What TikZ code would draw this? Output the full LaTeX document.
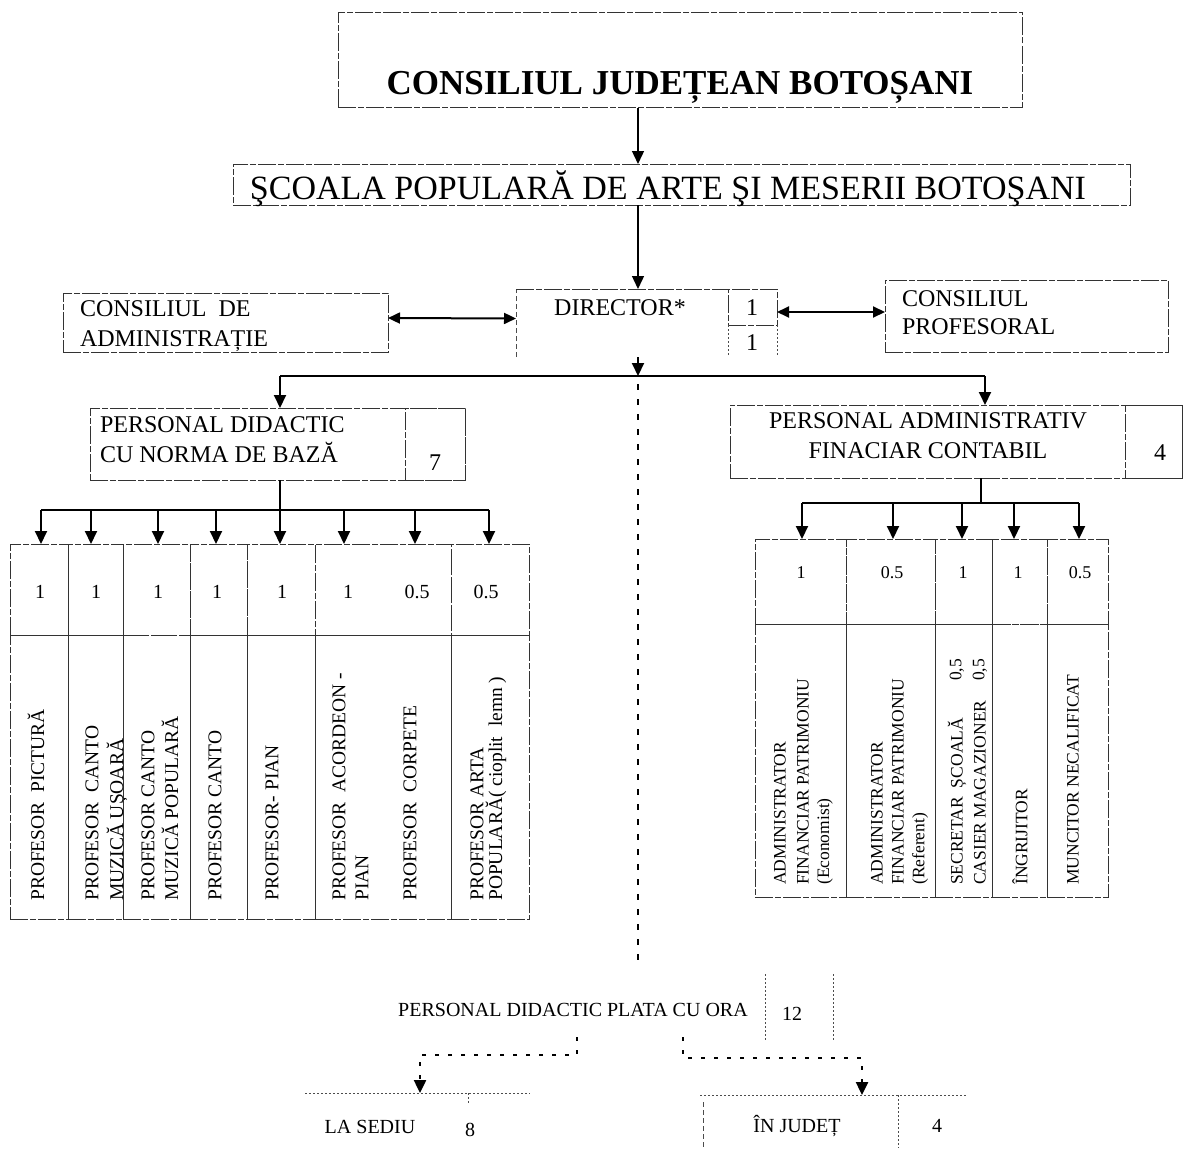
\documentclass[tikz,border=0pt]{standalone}
\usepackage{fontspec}
\setmainfont{Liberation Serif}
\usetikzlibrary{arrows.meta}
\begin{document}
\begin{tikzpicture}[x=1pt,y=-1pt,
 brd/.style={draw=black!80,line width=0.9pt,dash pattern=on 18pt off 2pt on 6pt off 2pt},
 lite/.style={draw=black!70,line width=0.8pt,dash pattern=on 5pt off 3pt},
 dotl/.style={draw=black!70,line width=0.8pt,dash pattern=on 1.5pt off 2.5pt},
 frame/.style={inner sep=0pt,outer sep=0pt},
 conn/.style={draw=black,line width=2pt},
 thinconn/.style={draw=black,line width=1.4pt},
 tip/.style={-{Triangle[length=13pt,width=12pt]}},
 dtip/.style={{Triangle[length=12pt,width=11pt]}-{Triangle[length=12pt,width=11pt]}},
 dotconn/.style={draw=black,line width=2.4pt,dash pattern=on 4pt off 9pt},
 spinedot/.style={draw=black,line width=1.8pt,dash pattern=on 6pt off 9pt},
 txt/.style={inner sep=0pt,outer sep=0pt,anchor=base},
 txtw/.style={inner sep=0pt,outer sep=0pt,anchor=base west},
 f35/.style={font=\fontsize{35}{40}\selectfont\bfseries},
 f34/.style={font=\fontsize{34}{38}\selectfont},
 f24/.style={font=\fontsize{24}{28}\selectfont},
 f20/.style={font=\fontsize{20}{24}\selectfont},
 f18/.style={font=\fontsize{18}{22}\selectfont},
 rotL/.style={rotate=90,anchor=west,inner sep=0pt,font=\fontsize{19.5}{22}\selectfont},
 rotR/.style={rotate=90,anchor=west,inner sep=0pt,font=\fontsize{17.5}{20}\selectfont},
]
\useasboundingbox (0,0) rectangle (1185,1148);
\coordinate (spine) at (638,0);

% top boxes
\node[frame,brd,minimum width=684pt,minimum height=95pt] (cjb) at (680,60) {};
\node[txt,f35] (cjbt) at (680,94) {CONSILIUL JUDEȚEAN BOTOȘANI};
\node[frame,brd,minimum width=897pt,minimum height=41pt] (scoala) at (681.5,184.5) {};
\node[txt,f34] (scoalat) at (668,199) {ŞCOALA POPULARĂ DE ARTE ŞI MESERII BOTOŞANI};

% director
\node[frame,minimum width=212pt,minimum height=68pt] (director) at (622,323) {};
\draw[lite] (director.south west) -- (director.north west);
\draw[brd] (director.north west) -- (director.north east);
\node[frame,brd,minimum width=49pt,minimum height=36pt] (d1) at (752.5,307) {};
\node[frame,minimum width=49pt,minimum height=32pt] (d2) at (752.5,341) {};
\draw[dotl] (d2.north west) -- (d2.south west);
\draw[dotl] (d2.north east) -- (d2.south east);
\node[txt,f24] (dirt) at (620,315) {DIRECTOR*};
\node[txt,f24] (d1t) at (752,315) {1};
\node[txt,f24] (d2t) at (752,350) {1};

% consiliul de administratie
\node[frame,brd,minimum width=325pt,minimum height=59pt] (cda) at (225.5,322.5) {};
\node[txtw,f24] (cdat1) at (80,316) {CONSILIUL\ \ DE};
\node[txtw,f24] (cdat2) at (80,346) {ADMINISTRAȚIE};
% consiliul profesoral
\node[frame,brd,minimum width=283pt,minimum height=72pt] (cp) at (1026.5,316) {};
\node[txtw,f24] (cpt1) at (902,306) {CONSILIUL};
\node[txtw,f24] (cpt2) at (902,334) {PROFESORAL};

% top connectors
\draw[thinconn,tip] (cjb.south -| spine) -- (scoala.north -| spine);
\draw[thinconn,tip] (scoala.south -| spine) -- (director.north -| spine);
\draw[conn,dtip] ([yshift=4.5pt]cda.east) -- ([yshift=4.5pt]director.west);
\draw[conn,dtip] ([yshift=-5pt]d1.east) -- ([yshift=-5pt]d1.east -| cp.west);

% second level
\coordinate (bus) at (638,376);
\coordinate (pdx) at (280,376);
\coordinate (pax) at (985,376);
\node[frame,brd,minimum width=375pt,minimum height=72pt] (pd) at (277.5,444) {};
\node[frame,brd,minimum width=60pt,minimum height=72pt] (pdn) at (435,444) {};
\node[txtw,f24] (pdt1) at (100,432) {PERSONAL DIDACTIC};
\node[txtw,f24] (pdt2) at (100,462) {CU NORMA DE BAZĂ};
\node[txt,f24] (pdnt) at (435,470) {7};
\node[frame,brd,minimum width=452pt,minimum height=73pt] (pa) at (956,441.5) {};
\node[frame,brd,minimum width=57pt,minimum height=73pt] (pan) at (1153.5,441.5) {};
\node[txt,f24] (pat1) at (928,428) {PERSONAL ADMINISTRATIV};
\node[txt,f24] (pat2) at (928,458) {FINACIAR CONTABIL};
\node[txt,f24] (pant) at (1160,460) {4};

\draw[conn,tip] (director.south -| spine) -- (bus);
\draw[conn] (pdx) -- (pax);
\draw[conn,tip] (pdx) -- (pdx |- pd.north);
\draw[conn,tip] (pax) -- (pax |- pa.north);
\coordinate (spend) at (638,968);
\draw[spinedot] ([yshift=-8pt]bus) -- (spend);

% left table
\foreach \i/\l/\r in {1/10/68,2/68/123,3/123/190,4/190/247,5/247/315,6/315/451,7/451/529}{
  \node[frame,brd,minimum width={(\r-\l)*1pt},minimum height=91pt] (Lt\i) at ({(\l+\r)/2},589.5) {};
  \node[frame,brd,minimum width={(\r-\l)*1pt},minimum height=284pt] (Lb\i) at ({(\l+\r)/2},777) {};
}
\foreach \i/\x in {1/41,2/91,3/158,4/216,5/280,6/344,7/415,8/489}{
  \coordinate (a\i) at (\x,510);
}
\draw[conn] (a1) -- (a8);
\draw[conn,tip] (pd.south -| a5) -- (a5 |- Lt1.north);
\foreach \i in {1,2,3,4,6,7,8}{
  \draw[conn,tip] (a\i) -- (a\i |- Lt1.north);
}
\foreach \i/\x/\v in {1/40/1,2/96/1,3/158/1,4/217/1,5/282/1,6/348/1,7/417/0.5,8/486/0.5}{
  \node[txt,f20] (n\i) at (\x,598) {\v};
}
\node[rotL] (t1) at (36,901) {PROFESOR\ \ PICTURĂ};
\node[rotL] (t2a) at (92,901) {PROFESOR\ \ CANTO};
\node[rotL] (t2b) at (117,901) {MUZICĂ UȘOARĂ};
\node[rotL] (t3a) at (148,901) {PROFESOR CANTO};
\node[rotL] (t3b) at (170,901) {MUZICĂ POPULARĂ};
\node[rotL] (t4) at (215,901) {PROFESOR CANTO};
\node[rotL] (t5) at (272,901) {PROFESOR- PIAN};
\node[rotL] (t6a) at (339,901) {PROFESOR\ \ ACORDEON -};
\node[rotL] (t6b) at (362,901) {PIAN};
\node[rotL] (t7) at (410,901) {PROFESOR\ \ CORPETE};
\node[rotL] (t8a) at (477,901) {PROFESOR ARTA};
\node[rotL] (t8b) at (496,901) {POPULARĂ( cioplit\ \ lemn )};

% right table
\foreach \i/\l/\r in {1/755/846,2/846/935,3/935/992,4/992/1047,5/1047/1108}{
  \node[frame,brd,minimum width={(\r-\l)*1pt},minimum height=85pt] (Rt\i) at ({(\l+\r)/2},581.5) {};
  \node[frame,brd,minimum width={(\r-\l)*1pt},minimum height=273pt] (Rb\i) at ({(\l+\r)/2},760.5) {};
}
\coordinate (rb) at (981,503);
\foreach \i/\x in {1/802,2/893,3/962,4/1014,5/1079}{
  \coordinate (r\i) at (\x,503);
}
\draw[conn] (pa.south -| rb) -- (rb);
\draw[conn] (r1) -- (r5);
\foreach \i in {1,...,5}{
  \draw[conn,tip] (r\i) -- (r\i |- Rt1.north);
}
\foreach \i/\x/\v in {1/801/1,2/892/0.5,3/963/1,4/1018/1,5/1080/0.5}{
  \node[txt,f18] (m\i) at (\x,578) {\v};
}
\node[rotR] (s1a) at (780,885) {ADMINISTRATOR};
\node[rotR] (s1b) at (803,885) {FINANCIAR PATRIMONIU};
\node[rotR] (s1c) at (825,885) {(Economist)};
\node[rotR] (s2a) at (877,885) {ADMINISTRATOR};
\node[rotR] (s2b) at (898,885) {FINANCIAR PATRIMONIU};
\node[rotR] (s2c) at (920,885) {(Referent)};
\node[rotR] (s3a) at (957,885) {SECRETAR\ \ ȘCOALĂ};
\node[rotR] (s3b) at (980,885) {CASIER MAGAZIONER};
\node[rotR] (s3c) at (957,681) {0,5};
\node[rotR] (s3d) at (980,681) {0,5};
\node[rotR] (s4) at (1020,885) {ÎNGRIJITOR};
\node[rotR] (s5) at (1073,885) {MUNCITOR NECALIFICAT};

% bottom
\node[txt,f20] (pdp) at (573,1016) {PERSONAL DIDACTIC PLATA CU ORA};
\node[frame,minimum width=68pt,minimum height=66pt] (b12) at (799,1007) {};
\draw[dotl] (b12.north west) -- (b12.south west);
\draw[dotl] (b12.north east) -- (b12.south east);
\node[txt,f20] (b12t) at (792,1020) {12};

\node[frame,minimum width=225pt,minimum height=54pt] (ls) at (417.5,1120) {};
\draw[dotl] (ls.north west) -- (ls.north east);
\draw[dotl] ([xshift=50.5pt]ls.north) -- ++(0,10);
\node[txt,f20] (lst) at (370,1133) {LA SEDIU};
\node[txt,f20] (lsn) at (470,1136) {8};

\node[frame,minimum width=268pt,minimum height=53pt] (ij) at (834,1121.5) {};
\draw[dotl] (ij.north west) -- (ij.north east);
\draw[lite] ([yshift=-7pt,xshift=3pt]ij.north west) -- ([xshift=3pt]ij.south west);
\draw[dotl] ([xshift=64pt]ij.north) -- ([xshift=64pt]ij.south);
\node[txt,f20] (ijt) at (797,1132) {ÎN JUDEȚ};
\node[txt,f20] (ijn) at (937,1132) {4};

\coordinate (cl) at (577,1037);
\coordinate (cr) at (683,1037);
\draw[dotconn,tip] (cl) -- ++(0,18) -| ([xshift=2.5pt]ls.north);
\draw[dotconn,tip] (cr) -- ++(0,21) -| ([xshift=28pt]ij.north);
\end{tikzpicture}
\end{document}
